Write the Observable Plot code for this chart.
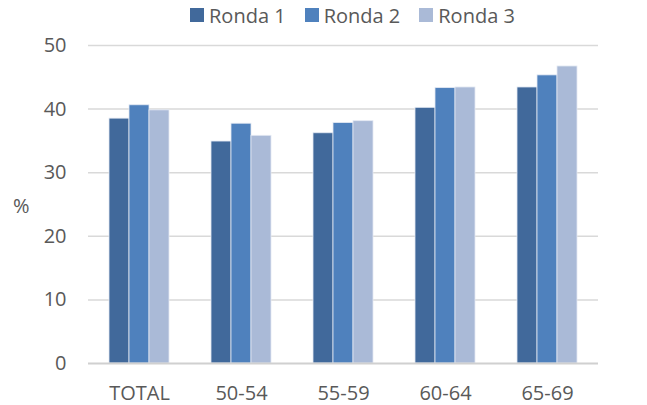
<!DOCTYPE html>
<html>
<head>
<meta charset="utf-8">
<script src="https://cdn.jsdelivr.net/npm/d3@7"></script>
<script src="https://cdn.jsdelivr.net/npm/@observablehq/plot@0.6"></script>
<style>
  html, body { margin: 0; padding: 0; background: #fff; }
  #wrap { position: relative; width: 647px; height: 405px; font-family: "Open Sans", sans-serif; color: #595959; }
  #legend { height: 30px; display: flex; align-items: center; padding-left: 190px; font-size: 20px; }
  #legend .item { display: flex; align-items: center; margin-right: 19px; }
  #legend .sw { width: 14px; height: 14px; margin-right: 5px; }
  #ylabel { position: absolute; left: 13px; top: 192px; font-size: 20px; }
</style>
</head>
<body>
<div id="wrap">
  <div id="legend"></div>
  <div id="ylabel">%</div>
  <div id="chart"></div>
</div>
<script>
const categories = ["TOTAL", "50-54", "55-59", "60-64", "65-69"];
const series = ["Ronda 1", "Ronda 2", "Ronda 3"];
const ronda1 = [38.5, 34.9, 36.2, 40.2, 43.4];
const ronda2 = [40.6, 37.7, 37.8, 43.3, 45.3];
const ronda3 = [39.8, 35.8, 38.1, 43.4, 46.7];
const colors = ["#41699b", "#4f81bd", "#aabad7"];
const yTicks = [0, 10, 20, 30, 40, 50];

const values = [ronda1, ronda2, ronda3];
const data = [];
categories.forEach((c, i) => {
  series.forEach((s, j) => data.push({category: c, ronda: s, value: values[j][i]}));
});

const legend = document.getElementById("legend");
series.forEach((s, j) => {
  const it = document.createElement("div");
  it.className = "item";
  it.innerHTML = `<div class="sw" style="background:${colors[j]}"></div><span>${s}</span>`;
  legend.appendChild(it);
});

const chart = Plot.plot({
  width: 647,
  height: 375,
  marginTop: 15,
  marginBottom: 42,
  marginLeft: 88,
  marginRight: 49,
  style: { fontFamily: "Open Sans, sans-serif", fontSize: "20px", color: "#595959", background: "white" },
  fx: { domain: categories, paddingInner: 0, paddingOuter: 0, label: null, axis: null },
  x: { domain: series, paddingInner: 0, paddingOuter: 1, axis: null },
  y: { domain: [0, 50], ticks: yTicks, label: null, axis: null },
  color: { domain: series, range: colors },
  marks: [
    Plot.ruleY(yTicks.filter(d => d > 0), { stroke: "#d9d9d9", strokeWidth: 1.5 }),
    Plot.barY(data, { fx: "category", x: "ronda", y: "value", fill: "ronda", stroke: "#e3e9f3", strokeWidth: 0.8 }),
    Plot.ruleY([0], { stroke: "#d0d0d0", strokeWidth: 2 }),
    Plot.axisY({ ticks: yTicks, tickSize: 0, tickPadding: 22, fontSize: 20, fill: "#595959", label: null }),
    Plot.axisFx({ anchor: "bottom", tickSize: 0, tickPadding: 22, fontSize: 20, fill: "#595959", label: null })
  ]
});
document.getElementById("chart").appendChild(chart);
</script>
</body>
</html>
